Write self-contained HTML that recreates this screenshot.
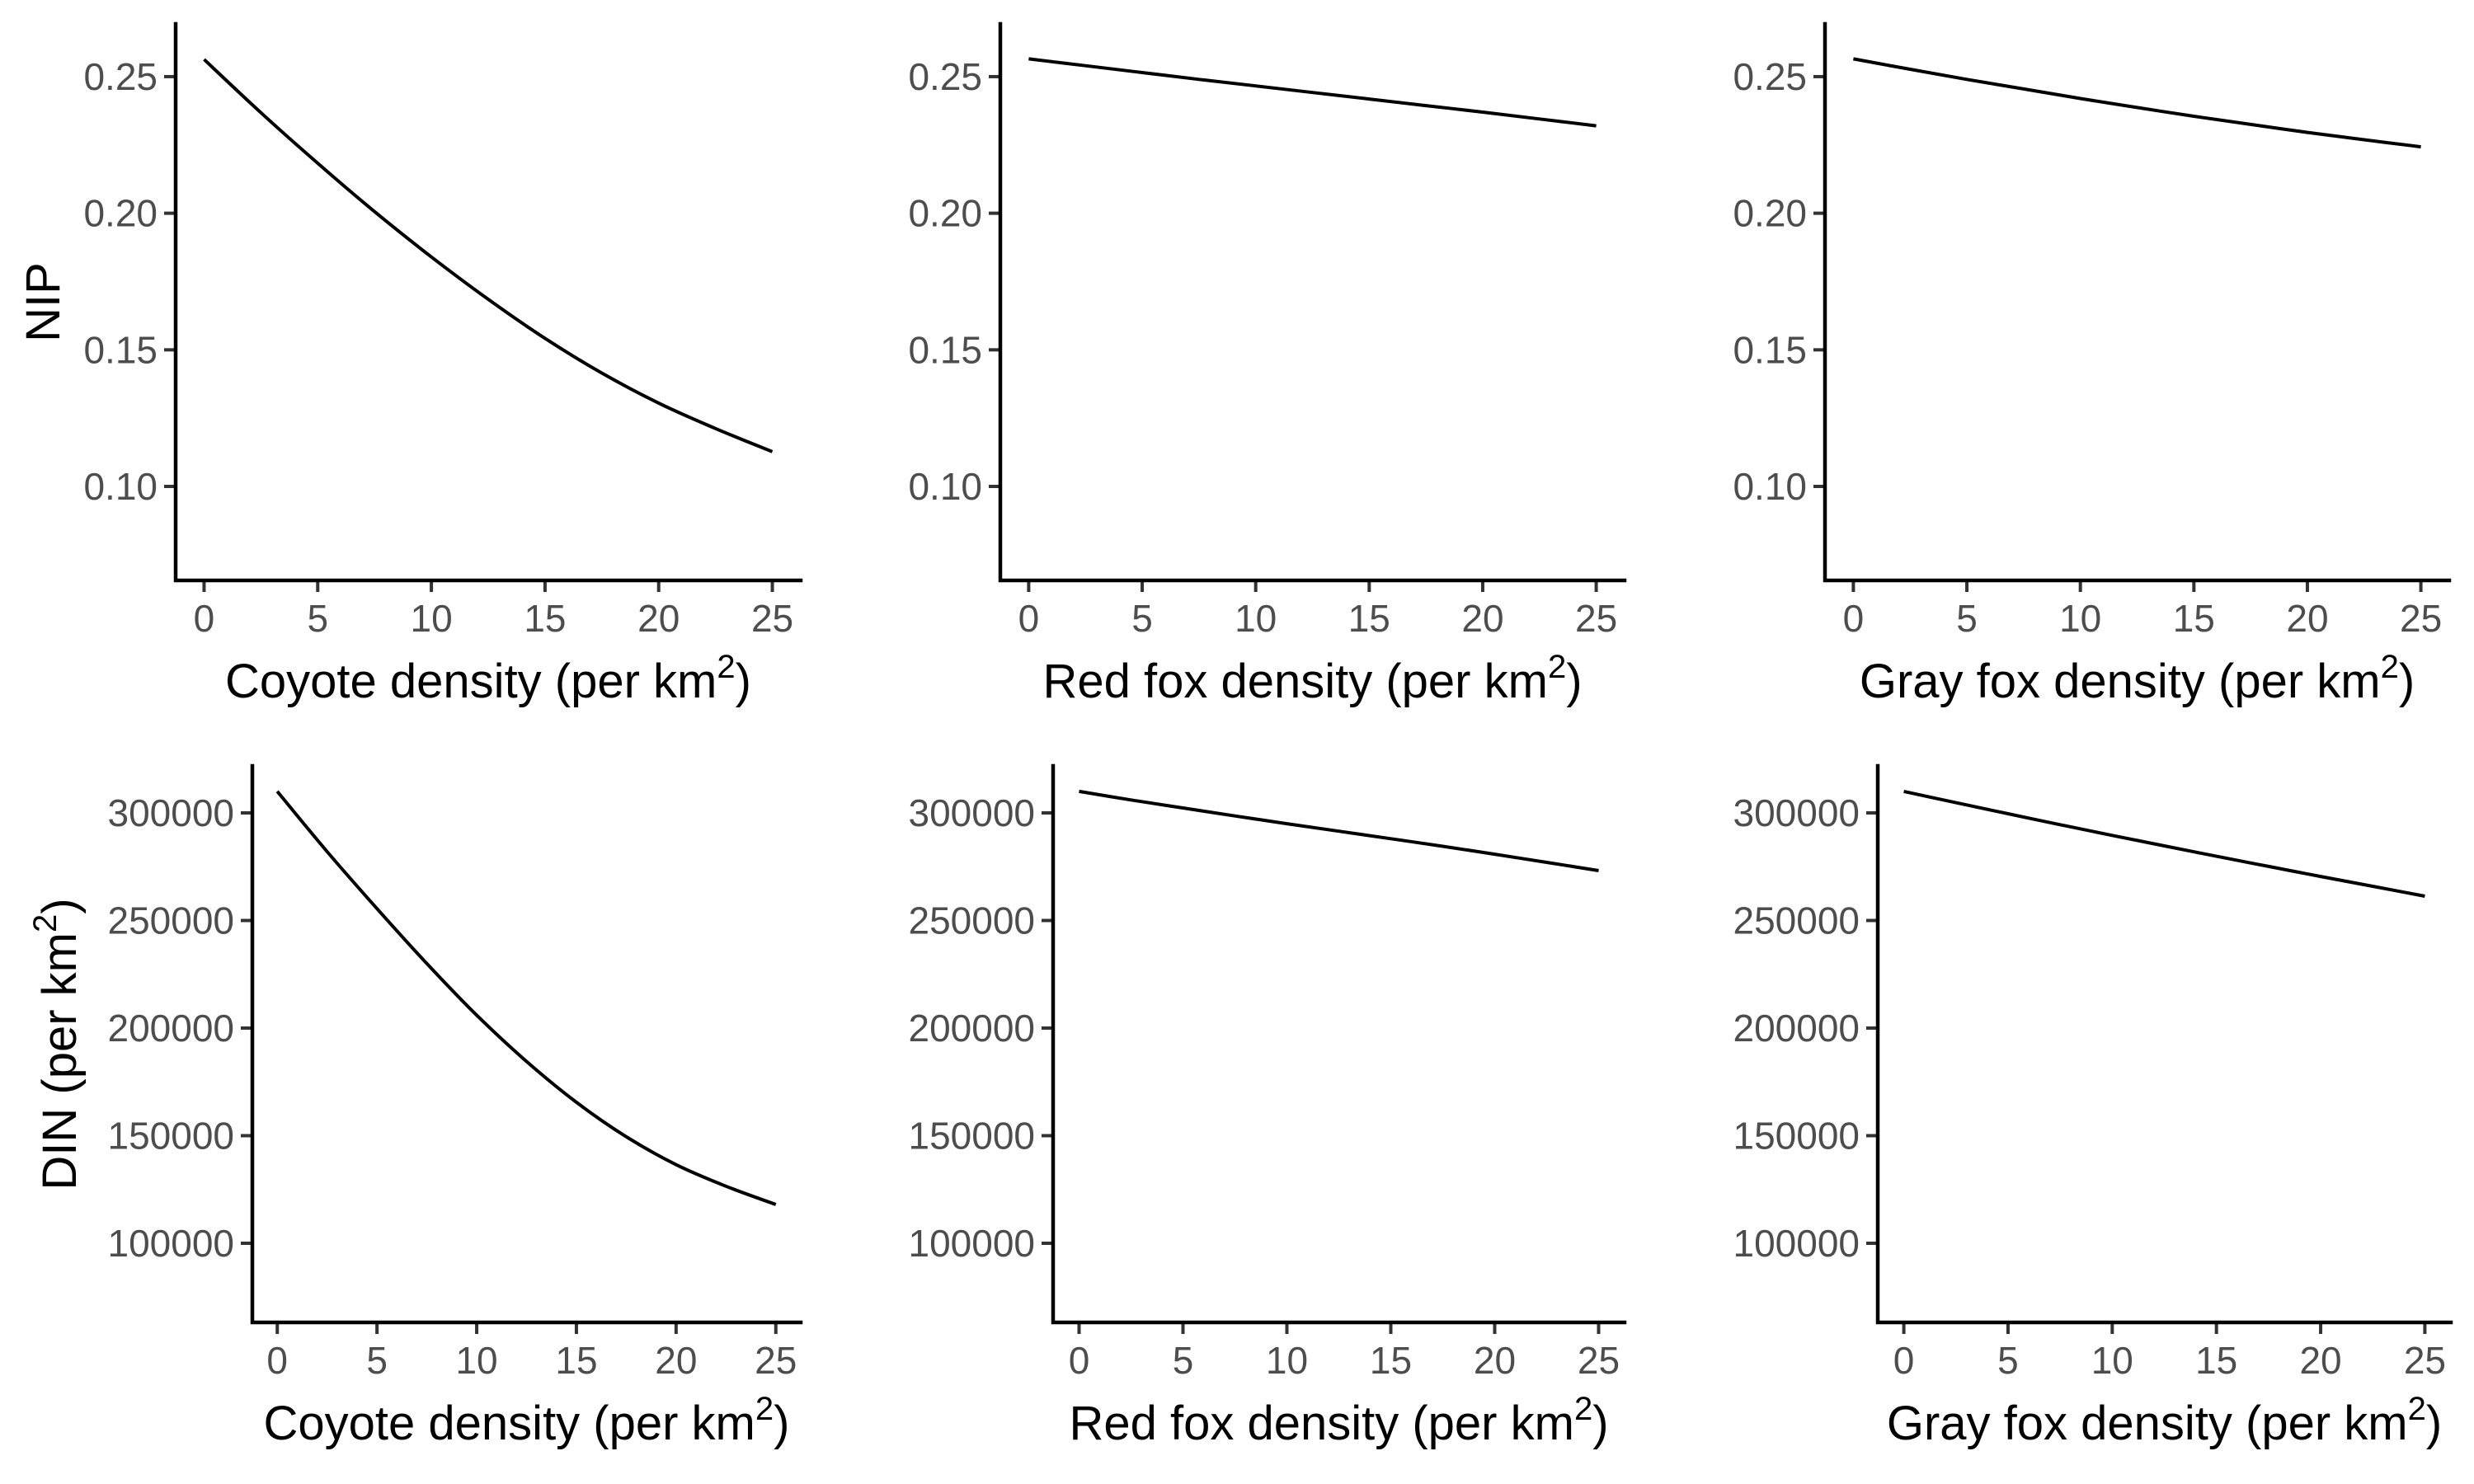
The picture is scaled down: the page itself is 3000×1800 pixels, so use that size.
<!DOCTYPE html>
<html><head><meta charset="utf-8">
<style>
html,body{margin:0;padding:0;background:#fff;}
svg{display:block;}
text{font-family:"Liberation Sans",sans-serif;}
.tick{fill:#4d4d4d;font-size:46px;}
.title{fill:#000;font-size:58px;}
</style></head>
<body>
<svg id="chart" width="3000" height="1800" viewBox="0 0 3000 1800" xmlns="http://www.w3.org/2000/svg"></svg>
<script>
const xVals = [0, 2.5, 5, 7.5, 10, 12.5, 15, 17.5, 20, 22.5, 25];
const nipCoyote = [0.2563, 0.2368, 0.2183, 0.2006, 0.1840, 0.1685, 0.1542, 0.1415, 0.1305, 0.1212, 0.1127];
const nipRedFox = [0.2565, 0.2540, 0.2515, 0.2490, 0.2466, 0.2442, 0.2418, 0.2394, 0.2370, 0.2345, 0.2320];
const nipGrayFox = [0.2565, 0.2527, 0.2490, 0.2455, 0.2420, 0.2387, 0.2355, 0.2325, 0.2296, 0.2269, 0.2243];
const dinCoyote = [310000, 282000, 255500, 230000, 206000, 184500, 165500, 149500, 136500, 126500, 118000];
const dinRedFox = [310000, 306000, 302300, 298600, 295000, 291500, 288000, 284500, 280800, 277000, 273200];
const dinGrayFox = [310000, 304760, 299600, 294540, 289560, 284660, 279850, 275120, 270460, 265890, 261300];
const xTicks = [0, 5, 10, 15, 20, 25];
const nipTicks = [0.10, 0.15, 0.20, 0.25];
const nipTickLabels = ["0.10", "0.15", "0.20", "0.25"];
const dinTicks = [100000, 150000, 200000, 250000, 300000];
const dinTickLabels = ["100000", "150000", "200000", "250000", "300000"];
const xTitles = ["Coyote density", "Red fox density", "Gray fox density"];

const NS = "http://www.w3.org/2000/svg";
const svg = document.getElementById('chart');
function mk(tag, attrs, parent){ const e=document.createElementNS(NS,tag); for(const k in attrs) e.setAttribute(k,attrs[k]); (parent||svg).appendChild(e); return e; }

function smoothPath(pts){
  let d = 'M'+pts[0][0].toFixed(1)+' '+pts[0][1].toFixed(1);
  for(let i=0;i<pts.length-1;i++){
    const p0=pts[Math.max(i-1,0)], p1=pts[i], p2=pts[i+1], p3=pts[Math.min(i+2,pts.length-1)];
    const c1=[p1[0]+(p2[0]-p0[0])/6, p1[1]+(p2[1]-p0[1])/6];
    const c2=[p2[0]-(p3[0]-p1[0])/6, p2[1]-(p3[1]-p1[1])/6];
    d += ` C${c1[0].toFixed(1)} ${c1[1].toFixed(1)} ${c2[0].toFixed(1)} ${c2[1].toFixed(1)} ${p2[0].toFixed(1)} ${p2[1].toFixed(1)}`;
  }
  return d;
}

const panels = [
 {name:'nip-coyote', L:213, R:971, T:29, B:704, dom:[0.0656,0.2693], ticks:nipTicks, labels:nipTickLabels, data:nipCoyote, col:0, ylab:'NIP'},
 {name:'nip-red-fox', L:1213, R:1970, T:29, B:704, dom:[0.0656,0.2693], ticks:nipTicks, labels:nipTickLabels, data:nipRedFox, col:1},
 {name:'nip-gray-fox', L:2213, R:2970, T:29, B:704, dom:[0.0656,0.2693], ticks:nipTicks, labels:nipTickLabels, data:nipGrayFox, col:2},
 {name:'din-coyote', L:306, R:971, T:929, B:1604, dom:[63220,321840], ticks:dinTicks, labels:dinTickLabels, data:dinCoyote, col:0, ylab:'DIN'},
 {name:'din-red-fox', L:1277, R:1970, T:929, B:1604, dom:[63220,321840], ticks:dinTicks, labels:dinTickLabels, data:dinRedFox, col:1},
 {name:'din-gray-fox', L:2277, R:2972, T:929, B:1604, dom:[63220,321840], ticks:dinTicks, labels:dinTickLabels, data:dinGrayFox, col:2}
];

panels.forEach(p=>{
  const g = mk('g',{});
  
  
  const W = p.R-p.L, pad = W*0.05/1.1;
  const xs = v => p.L+pad + (v/25)*(W-2*pad);
  const ys = v => p.B - (v-p.dom[0])/(p.dom[1]-p.dom[0])*(p.B-p.T);
  const pts = xVals.map((x,i)=>[xs(x), ys(p.data[i])]);
  const ln = mk('path',{d:smoothPath(pts), fill:'none', stroke:'#000', 'stroke-width':4, 'stroke-linejoin':'round'}, g);
  
  
  p.ticks.forEach((t,i)=>{
    const y = ys(t);
    const tk = mk('line',{x1:p.L-14,x2:p.L,y1:y,y2:y,stroke:'#333','stroke-width':4},g);
    
    
    const tx = mk('text',{x:p.L-22,y:y+16,'text-anchor':'end',class:'tick'},g);
    tx.textContent = p.labels[i];
    
    
  });
  xTicks.forEach(t=>{
    const x = xs(t);
    const tk = mk('line',{x1:x,x2:x,y1:p.B,y2:p.B+14,stroke:'#333','stroke-width':4},g);
    
    
    const tx = mk('text',{x:x,y:p.B+62,'text-anchor':'middle',class:'tick'},g);
    tx.textContent = String(t);
    
    
  });
  const ax = mk('path',{d:`M${p.L} ${p.T} L${p.L} ${p.B} L${p.R} ${p.B}`, fill:'none', stroke:'#000','stroke-width':4.5,'stroke-linecap':'square'},g);
  
  
  const xt = mk('text',{x:(p.L+p.R)/2,y:p.B+142,'text-anchor':'middle',class:'title'},g);
  xt.innerHTML = xTitles[p.col]+' (per km<tspan dy="-24" font-size="40">2</tspan><tspan dy="24">)</tspan>';
  
  
  if(p.ylab){
    const cy=(p.T+p.B)/2, cx = p.ylab==='NIP'?72:92;
    const yt = mk('text',{x:cx,y:cy,'text-anchor':'middle',class:'title',transform:`rotate(-90 ${cx} ${cy})`},g);
    if(p.ylab==='NIP') yt.textContent='NIP';
    else yt.innerHTML='DIN (per km<tspan dy="-24" font-size="40">2</tspan><tspan dy="24">)</tspan>';
    
    
  }
});
</script>
</body></html>
